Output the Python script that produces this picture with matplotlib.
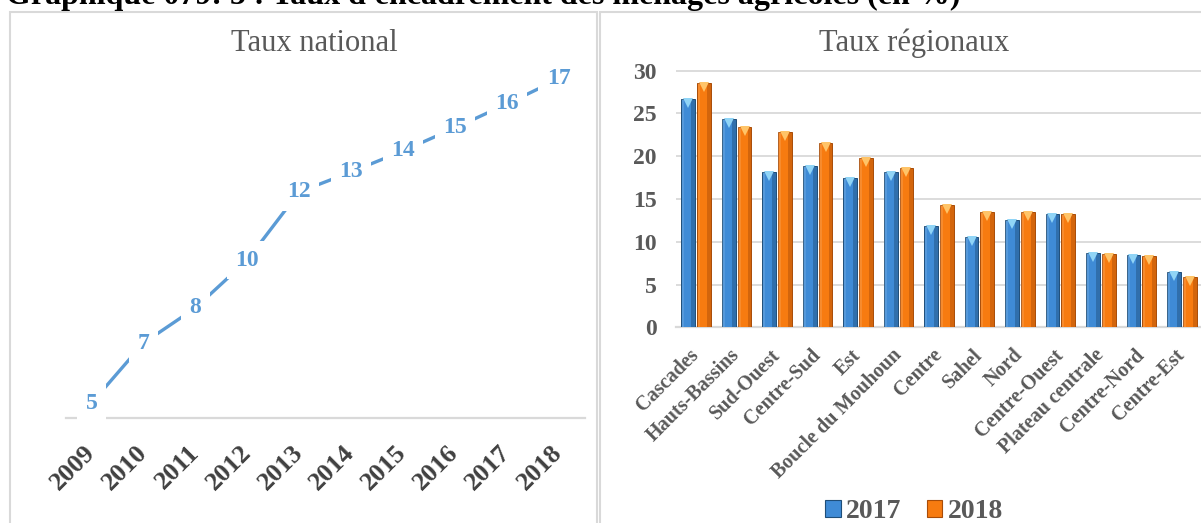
import matplotlib
matplotlib.use("Agg")
import matplotlib.pyplot as plt
import numpy as np
from matplotlib.patches import Rectangle, Patch
from matplotlib.transforms import offset_copy

plt.rcParams['font.family'] = ['Liberation Serif', 'DejaVu Serif']

# ---------------- data ----------------
years = ['2009', '2010', '2011', '2012', '2013', '2014', '2015', '2016', '2017', '2018']
national = [4.61, 6.83, 8.13, 9.9, 12.42, 13.16, 13.94, 14.79, 15.675, 16.6]

regions = ['Cascades', 'Hauts-Bassins', 'Sud-Ouest', 'Centre-Sud', 'Est',
           'Boucle du Mouhoun', 'Centre', 'Sahel', 'Nord', 'Centre-Ouest',
           'Plateau centrale', 'Centre-Nord', 'Centre-Est']
rate_2017 = [26.7, 24.3, 18.1, 18.9, 17.4, 18.2, 11.8, 10.5, 12.5, 13.2, 8.7, 8.4, 6.5]
rate_2018 = [28.6, 23.4, 22.8, 21.5, 19.8, 18.6, 14.3, 13.5, 13.5, 13.2, 8.6, 8.3, 5.9]
series_labels = ['2017', '2018']

W, H = 1201, 523
fig = plt.figure(figsize=(W / 100, H / 100), dpi=100)

def fx(px):
    return px / W

def fy(px):
    return 1 - px / H

# panel frames
fig.patches.append(Rectangle((fx(9.5), -0.1), fx(596.5 - 9.5), fy(12) + 0.1,
                             transform=fig.transFigure, fill=False,
                             ec='#D9D9D9', lw=1.5, zorder=0))
fig.patches.append(Rectangle((fx(599.5), -0.1), 1.0, fy(12) + 0.1,
                             transform=fig.transFigure, fill=False,
                             ec='#D9D9D9', lw=1.5, zorder=0))

# document caption (cut at the top, as in the source page)
fig.text(fx(6), fy(4), "Graphique 079: 5 : Taux d'encadrement des ménages agricoles (en %)",
         fontsize=23, fontweight='bold', color='black', ha='left', va='baseline')

# ---------------- left: national line ----------------
ax1 = fig.add_axes([fx(65.5), fy(417.5), fx(584.8 - 65.5), (417.5 - 60) / H])
x1 = np.arange(len(years))
ax1.plot(x1, national, color='#5B9BD5', lw=2.4, solid_capstyle='butt', zorder=2)
for xi, v in zip(x1, national):
    ax1.text(xi, v, f"{v:.0f}", ha='center', va='center', fontsize=17,
             fontweight='bold', color='#5B9BD5', zorder=5, clip_on=False,
             bbox=dict(boxstyle='square,pad=0.36', fc='white', ec='none'))
ax1.set_xlim(-0.5, len(years) - 0.5)
ax1.set_ylim(4.08, 17.30)
ax1.set_yticks([])
ax1.set_xticks(x1)
ax1.set_xticklabels(years, rotation=45, ha='right', va='center',
                    rotation_mode='anchor', fontsize=19, fontweight='bold',
                    color='#404040')
ax1.tick_params(axis='x', length=0, pad=23)
for s in ['top', 'left', 'right']:
    ax1.spines[s].set_visible(False)
ax1.spines['bottom'].set_color('#D9D9D9')
ax1.spines['bottom'].set_linewidth(1.6)
ax1.spines['bottom'].set_zorder(1)
ax1.patch.set_alpha(0)
fig.text(fx(314), fy(51), 'Taux national', ha='center', va='baseline',
         fontsize=22, color='#595959')

# ---------------- right: regional bars ----------------
ax2 = fig.add_axes([fx(676), fy(327.3), fx(1202 - 676), (327.3 - 60) / H])
x2 = np.arange(len(regions))
bw = 0.34
off = 0.195
styles = [
    (rate_2017, -off, '#3F8BD6', '#1F4E79', '#90D4F6'),
    (rate_2018, off, '#F77B10', '#A84C08', '#FFC468'),
]
for vals, o, main, dark, light in styles:
    ax2.bar(x2 + o, vals, width=bw, color=main, edgecolor=dark, linewidth=0.7, zorder=3)
    ax2.bar(x2 + o + bw * 0.36, vals, width=bw * 0.28, color=dark, alpha=0.45,
            linewidth=0, zorder=3.5)
    ax2.bar(x2 + o - bw * 0.38, vals, width=bw * 0.2, color='white', alpha=0.12,
            linewidth=0, zorder=3.5)
    tr = offset_copy(ax2.transData, fig=fig, x=0, y=-4, units='dots')
    ax2.plot(x2 + o, vals, linestyle='none', marker='v', markersize=6.5,
             color=light, markeredgewidth=0, transform=tr, zorder=4)

ax2.set_xlim(-0.5, len(regions) - 0.5)
ax2.set_ylim(0, 31.25)
ax2.set_yticks(range(0, 31, 5))
ax2.set_yticklabels([str(t) for t in range(0, 31, 5)], fontsize=17,
                    fontweight='bold', color='#595959')
ax2.yaxis.grid(True, color='#D9D9D9', lw=1.3)
ax2.set_axisbelow(True)
ax2.set_xticks(x2)
ax2.set_xticklabels(regions, rotation=45, ha='right', va='center',
                    rotation_mode='anchor', fontsize=14.5, fontweight='bold',
                    color='#595959')
ax2.tick_params(axis='x', length=0, pad=18)
ax2.tick_params(axis='y', length=0, pad=14)
for s in ['top', 'left', 'right']:
    ax2.spines[s].set_visible(False)
ax2.spines['bottom'].set_color('#D9D9D9')
ax2.spines['bottom'].set_linewidth(1.6)
ax2.patch.set_alpha(0)
fig.text(fx(914), fy(51), 'Taux régionaux', ha='center', va='baseline',
         fontsize=22, color='#595959')

handles = [Patch(facecolor='#3F8BD6', edgecolor='#1F4E79', linewidth=0.8),
           Patch(facecolor='#F77B10', edgecolor='#A84C08', linewidth=0.8)]
fig.legend(handles, series_labels, loc='center', bbox_to_anchor=(fx(914), fy(512)),
           ncol=2, frameon=False, handlelength=0.55, handleheight=0.55,
           handletextpad=0.2, columnspacing=0.9,
           prop={'size': 20, 'weight': 'bold'}, labelcolor='#595959')

fig.savefig('out.png', dpi=100)
